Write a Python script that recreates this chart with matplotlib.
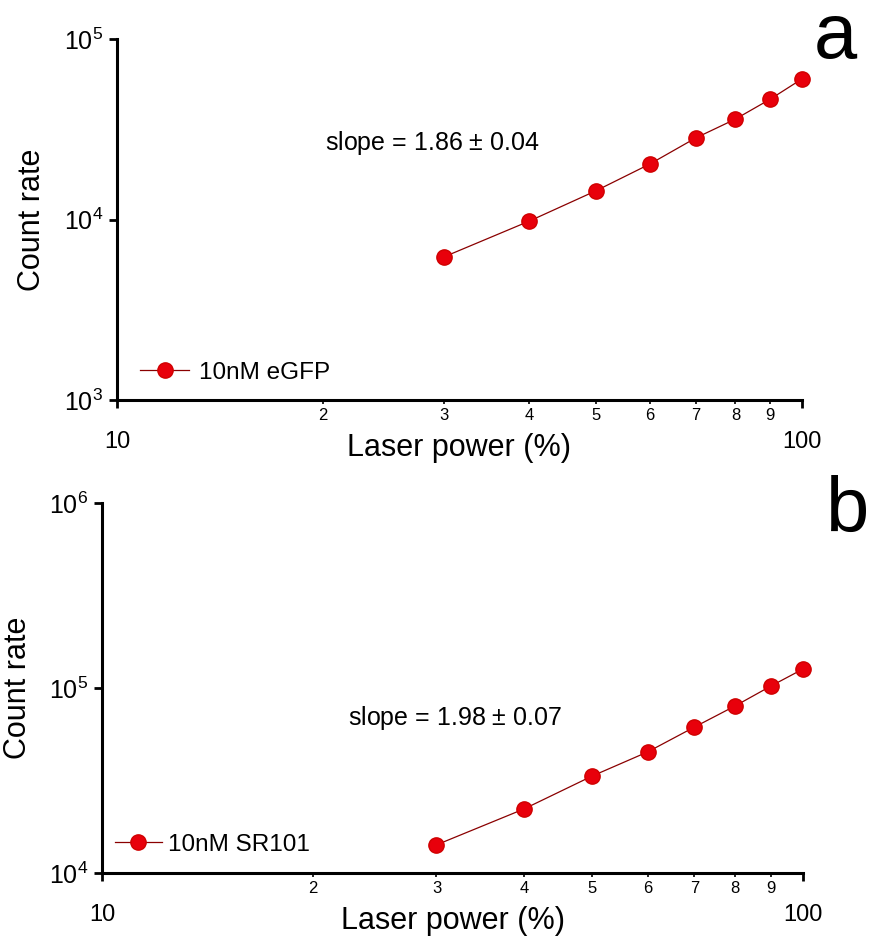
import numpy as np
import matplotlib
matplotlib.use("Agg")
import matplotlib.pyplot as plt
from matplotlib.ticker import FixedLocator, FixedFormatter, NullLocator, FuncFormatter

plt.rcParams['font.family'] = ['Liberation Sans', 'DejaVu Sans']
plt.rcParams['mathtext.fontset'] = 'custom'
plt.rcParams['mathtext.rm'] = 'Liberation Sans'
plt.rcParams['mathtext.it'] = 'Liberation Sans'

# laser power (%)
power = [30, 40, 50, 60, 70, 80, 90, 100]
# count rates
counts_egfp = [6200, 9800, 14400, 20300, 28300, 36000, 46500, 60000]
counts_sr101 = [14200, 22200, 33400, 45100, 61500, 80000, 102500, 126700]

x_major = [10, 100]
x_minor = [20, 30, 40, 50, 60, 70, 80, 90]
x_minor_labels = ['2', '3', '4', '5', '6', '7', '8', '9']

panels = [
    dict(y=counts_egfp, label='10nM eGFP', ylim=(1e3, 1e5), yticks=[1e3, 1e4, 1e5],
         slope='slope = 1.86 $\\pm$ 0.04', slope_xy=(0.461, 0.712), leg_xy=(0.034, 0.075),
         rect=[0.1346, 0.5726, 0.788, 0.3857], letter='a', letter_xy=(0.936, 0.938),
         ylab_x=-0.102, htp=0.4, hl=2.0),
    dict(y=counts_sr101, label='10nM SR101', ylim=(1e4, 1e6), yticks=[1e4, 1e5, 1e6],
         slope='slope = 1.98 $\\pm$ 0.07', slope_xy=(0.503, 0.419), leg_xy=(0.019, 0.076),
         rect=[0.1174, 0.0673, 0.8067, 0.3953], letter='b', letter_xy=(0.951, 0.4316),
         ylab_x=-0.098, htp=0.25, hl=1.9),
]

fig = plt.figure(figsize=(8.69, 9.36), dpi=100)

def sci(v, pos):
    return r'$\mathregular{10^{%d}}$' % int(round(np.log10(v)))

for p in panels:
    ax = fig.add_axes(p['rect'])
    ax.set_xscale('log')
    ax.set_yscale('log')
    ax.plot(power, p['y'], '-', color='#8a0000', lw=0.9, marker='o', ms=11,
            mfc='#e8000b', mec='#d00000', label=p['label'], clip_on=False, zorder=3)
    ax.set_xlim(10, 100)
    ax.set_ylim(*p['ylim'])

    for s in ['top', 'right']:
        ax.spines[s].set_visible(False)
    for s in ['left', 'bottom']:
        ax.spines[s].set_linewidth(2.2)

    ax.xaxis.set_major_locator(FixedLocator(x_major))
    ax.xaxis.set_major_formatter(FixedFormatter([str(v) for v in x_major]))
    ax.xaxis.set_minor_locator(FixedLocator(x_minor))
    ax.xaxis.set_minor_formatter(FixedFormatter(x_minor_labels))
    ax.tick_params(axis='x', which='major', length=6, width=2, labelsize=17, pad=16)
    ax.tick_params(axis='x', which='minor', length=3, width=1.2, labelsize=12, pad=3)

    ax.yaxis.set_major_locator(FixedLocator(p['yticks']))
    ax.yaxis.set_major_formatter(FuncFormatter(sci))
    ax.yaxis.set_minor_locator(NullLocator())
    ax.tick_params(axis='y', which='major', length=6, width=2, labelsize=18, pad=4)

    ax.set_xlabel('Laser power (%)', fontsize=22)
    ax.xaxis.set_label_coords(0.5, -0.09)
    ax.set_ylabel('Count rate', fontsize=22)
    ax.yaxis.set_label_coords(p['ylab_x'], 0.5)

    ax.text(p['slope_xy'][0], p['slope_xy'][1], p['slope'], transform=ax.transAxes,
            fontsize=18, ha='center', va='center')

    ax.legend(loc='center left', bbox_to_anchor=p['leg_xy'], frameon=False,
              fontsize=17.5, borderpad=0, borderaxespad=0, handlelength=p['hl'],
              handletextpad=p['htp'])

    fig.text(p['letter_xy'][0], p['letter_xy'][1], p['letter'], fontsize=56,
             ha='left', va='baseline')

fig.savefig('out.png', dpi=100)
